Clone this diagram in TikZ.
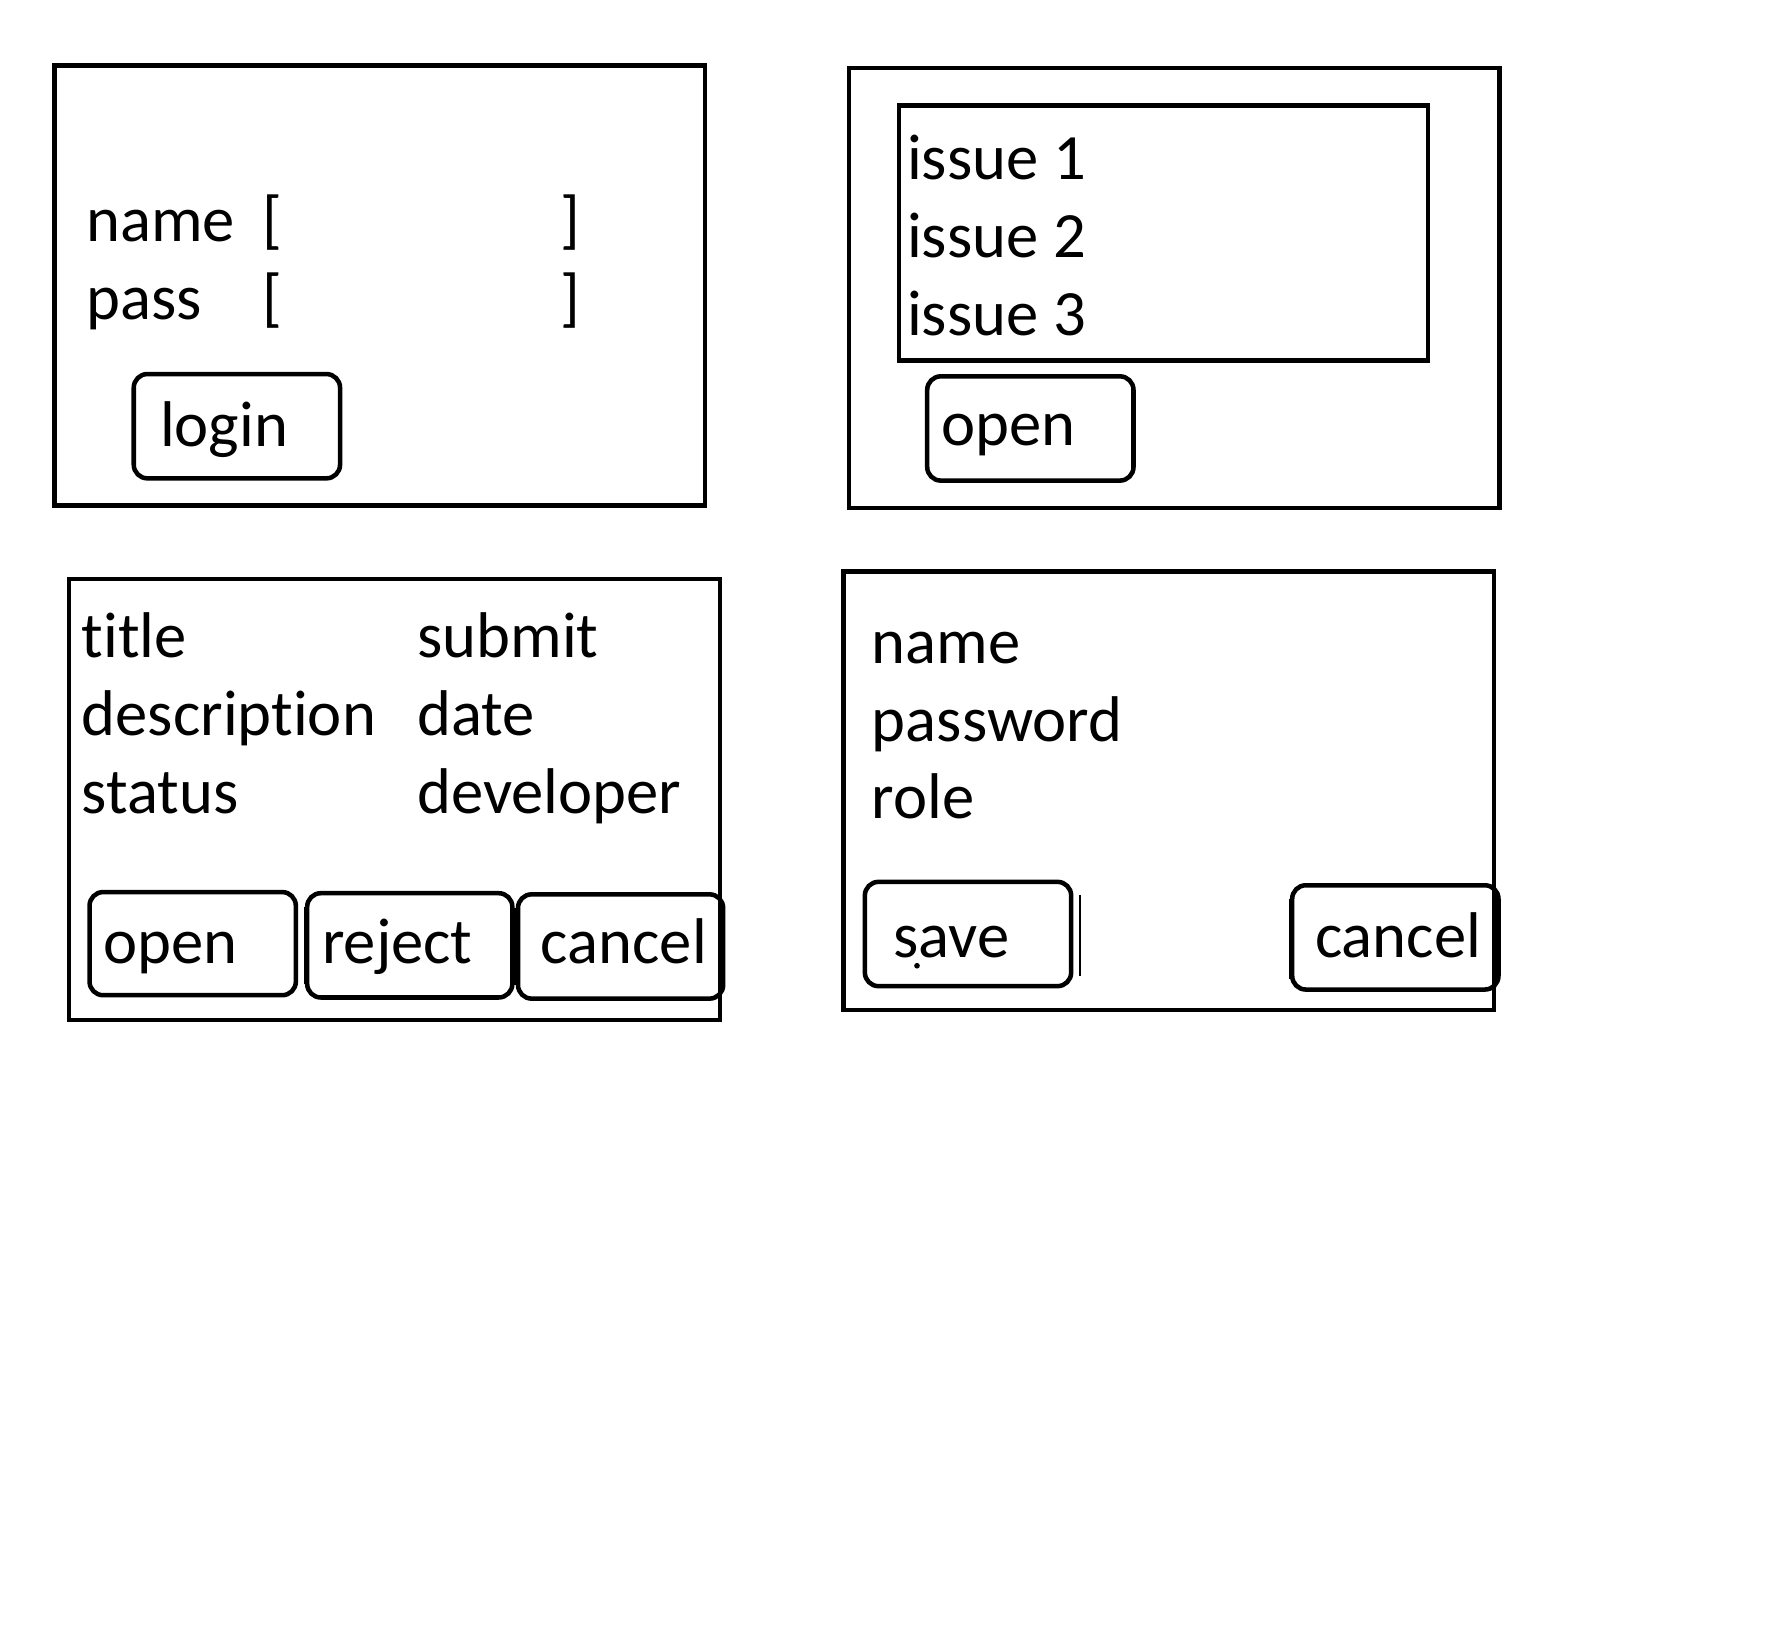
\documentclass[tikz,border=0pt]{standalone}
\usepackage{fontspec}
\setmainfont[Ligatures=NoCommon]{Carlito}
\begin{document}
\begin{tikzpicture}[x=1pt,y=-1pt,
  frame/.style={draw=black,line width=4pt},
  btn/.style={draw=black,line width=4pt,rounded corners=12pt},
  thin/.style={draw=black,line width=1.3pt},
  lbl/.style={anchor=base west,inner sep=0pt,font=\fontsize{57}{68}\selectfont}]
\useasboundingbox[fill=white] (0,0) rectangle (1568.6,1438);

% ---------- login window ----------
\draw[frame] (48,58) rectangle (622,446);
\node[lbl] (lname) at (76,213) {name};
\node[lbl] (lnameo) at (231,213) {[};
\node[lbl] (lnamec) at (494,213) {]};
\node[lbl] (lpass) at (76,282) {pass};
\node[lbl] (lpasso) at (231,282) {[};
\node[lbl] (lpassc) at (494,282) {]};
\draw[btn] (118,330) rectangle (300,422);
\node[lbl] (llogin) at (141,394) {login};

% ---------- issue list window ----------
\draw[frame] (749,60) rectangle (1323,448);
\draw[frame] (793,93) rectangle (1260,318);
\node[lbl] (i1) at (800,158) {issue 1};
\node[lbl] (i2) at (800,227) {issue 2};
\node[lbl] (i3) at (800,296) {issue 3};
\draw[btn] (818,332) rectangle (1000,424);
\node[lbl] (iopen) at (830,393) {open};

% ---------- issue detail window ----------
\draw[frame] (61,511) rectangle (635,900);
\node[lbl] (dtitle) at (72,580) {title};
\node[lbl] (ddesc) at (72,649) {description};
\node[lbl] (dstatus) at (72,718) {status};
\node[lbl] (dsubmit) at (368,580) {submit};
\node[lbl] (ddate) at (368,649) {date};
\node[lbl] (ddev) at (368,718) {developer};
\draw[btn] (79,787) rectangle (261,878);
\node[lbl] (dopen) at (91,850) {open};
\draw[btn] (271,788) rectangle (452,880);
\draw[thin] (268.5,800) -- (268.5,868);
\node[lbl] (dreject) at (284,850) {reject};
\draw[btn] (457,789) rectangle (638,881);
\draw[thin] (454.5,801) -- (454.5,869);
\node[lbl] (dcancel) at (477,850) {cancel};

% ---------- user window ----------
\draw[frame] (744,504) rectangle (1318,891);
\node[lbl] (uname) at (769,585) {name};
\node[lbl] (upass) at (769,654) {password};
\node[lbl] (urole) at (769,722) {role};
\draw[btn] (763,778) rectangle (945,870);
\node[lbl] (usave) at (788,845) {save};
\fill (809,852) circle (2.5pt);
\draw[thin] (953,790) -- (953,861);
\draw[btn] (1140,781) rectangle (1322,873);
\draw[thin] (1137.5,793) -- (1137.5,864);
\node[lbl] (ucancel) at (1160,845) {cancel};
\end{tikzpicture}
\end{document}
